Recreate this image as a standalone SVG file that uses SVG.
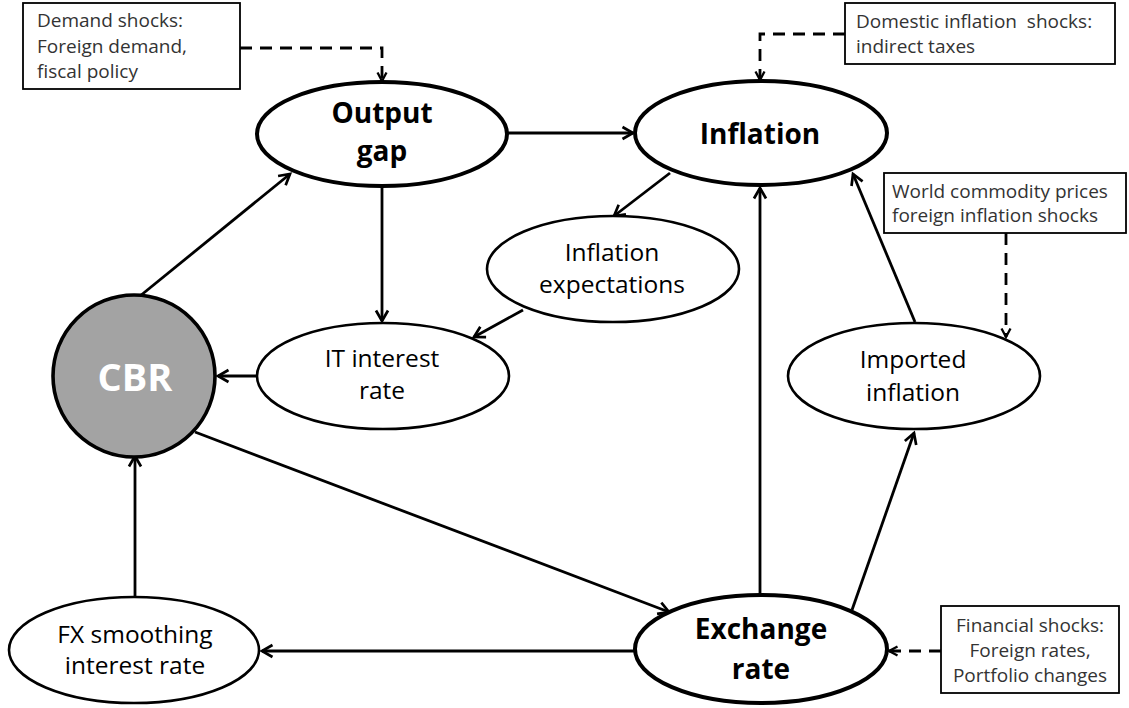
<svg xmlns="http://www.w3.org/2000/svg" width="1129" height="708" viewBox="0 0 1129 708">
<style>
.bg{fill:#ffffff}
.thick{fill:#ffffff;stroke:#000;stroke-width:4}
.thin{fill:#ffffff;stroke:#000;stroke-width:2.6}
.cbr{fill:#a3a3a3;stroke:#000;stroke-width:3.6}
.box{fill:#ffffff;stroke:#000;stroke-width:1.8}
.bold{font-family:"Open Sans","Liberation Sans",sans-serif;font-weight:bold;font-size:28px;fill:#000;text-anchor:middle}
.reg{font-family:"Open Sans","Liberation Sans",sans-serif;font-size:24.5px;fill:#000;text-anchor:middle}
.btx{font-family:"Open Sans","Liberation Sans",sans-serif;font-size:19px;fill:#333}
.cbrt{font-family:"Open Sans","Liberation Sans",sans-serif;font-weight:bold;font-size:38px;fill:#ffffff;text-anchor:middle}
.con{stroke:#000;stroke-width:2.8;fill:none;marker-end:url(#arr)}
.dash{stroke:#000;stroke-width:2.8;fill:none;stroke-dasharray:12 8;marker-end:url(#arrd)}
</style>
<defs>
<marker id="arr" markerUnits="userSpaceOnUse" markerWidth="16" markerHeight="16" viewBox="0 0 16 16" refX="13" refY="8" orient="auto">
<path d="M2.5,2 L13,8 L2.5,14" fill="none" stroke="#000" stroke-width="2.7" stroke-linejoin="miter"/>
</marker>
<marker id="arrd" markerUnits="userSpaceOnUse" markerWidth="12" markerHeight="12" viewBox="0 0 12 12" refX="10.5" refY="6" orient="auto">
<path d="M2,1.5 L10.5,6 L2,10.5" fill="none" stroke="#000" stroke-width="2.3"/>
</marker>
</defs>
<rect class="bg" x="0" y="0" width="1129" height="708"/>

<g id="connectors">
<line class="con" x1="140" y1="296" x2="290" y2="174"/>
<line class="con" x1="508" y1="133" x2="633" y2="133"/>
<line class="con" x1="382" y1="187" x2="382" y2="321"/>
<line class="con" x1="670" y1="173" x2="614" y2="216"/>
<line class="con" x1="523" y1="310" x2="474" y2="337"/>
<line class="con" x1="257" y1="376" x2="218" y2="376"/>
<line class="con" x1="195" y1="432" x2="669" y2="612"/>
<line class="con" x1="135" y1="597" x2="135" y2="456"/>
<line class="con" x1="635" y1="651" x2="262" y2="651"/>
<line class="con" x1="760" y1="595" x2="760" y2="188"/>
<line class="con" x1="852" y1="610" x2="914" y2="433"/>
<line class="con" x1="915" y1="322" x2="853" y2="174"/>
<path class="dash" d="M240,48 H382 V81"/>
<path class="dash" d="M845,34 H760 V80"/>
<path class="dash" d="M1006,233 V337"/>
<path class="dash" d="M941,651 H889"/>
</g>

<g id="demand-shocks">
<rect class="box" x="23" y="3" width="217" height="86"/>
<text class="btx" x="37" y="27">Demand shocks:</text>
<text class="btx" x="37" y="53">Foreign demand,</text>
<text class="btx" x="37" y="78">fiscal policy</text>
</g>

<g id="domestic-shocks">
<rect class="box" x="845" y="3" width="270" height="61"/>
<text class="btx" x="856" y="28" xml:space="preserve">Domestic inflation  shocks:</text>
<text class="btx" x="856" y="53">indirect taxes</text>
</g>

<g id="world-shocks">
<rect class="box" x="884" y="173" width="242" height="60"/>
<text class="btx" x="892" y="198">World commodity prices</text>
<text class="btx" x="892" y="222">foreign inflation shocks</text>
</g>

<g id="financial-shocks">
<rect class="box" x="941" y="606" width="178" height="87"/>
<text class="btx" x="1030" y="632" text-anchor="middle">Financial shocks:</text>
<text class="btx" x="1030" y="657" text-anchor="middle">Foreign rates,</text>
<text class="btx" x="1030" y="682" text-anchor="middle">Portfolio changes</text>
</g>

<g id="output-gap">
<ellipse class="thick" cx="382" cy="134" rx="125" ry="52"/>
<text class="bold" x="382" y="123">Output</text>
<text class="bold" x="382" y="161">gap</text>
</g>

<g id="inflation">
<ellipse class="thick" cx="761" cy="133" rx="126" ry="52"/>
<text class="bold" x="760" y="144">Inflation</text>
</g>

<g id="inflation-expectations">
<ellipse class="thin" cx="613" cy="269" rx="126" ry="53"/>
<text class="reg" x="612" y="261">Inflation</text>
<text class="reg" x="612" y="293">expectations</text>
</g>

<g id="it-interest-rate">
<ellipse class="thin" cx="383" cy="376" rx="126" ry="53"/>
<text class="reg" x="382" y="367">IT interest</text>
<text class="reg" x="382" y="399">rate</text>
</g>

<g id="cbr">
<circle class="cbr" cx="134" cy="376" r="81"/>
<text class="cbrt" x="135" y="391">CBR</text>
</g>

<g id="imported-inflation">
<ellipse class="thin" cx="914" cy="376" rx="126" ry="53"/>
<text class="reg" x="913" y="368">Imported</text>
<text class="reg" x="913" y="401">inflation</text>
</g>

<g id="exchange-rate">
<ellipse class="thick" cx="761" cy="649" rx="126" ry="54"/>
<text class="bold" x="761" y="639">Exchange</text>
<text class="bold" x="761" y="679">rate</text>
</g>

<g id="fx-smoothing">
<ellipse class="thin" cx="134" cy="650" rx="125" ry="53"/>
<text class="reg" x="135" y="643">FX smoothing</text>
<text class="reg" x="135" y="674">interest rate</text>
</g>
</svg>
